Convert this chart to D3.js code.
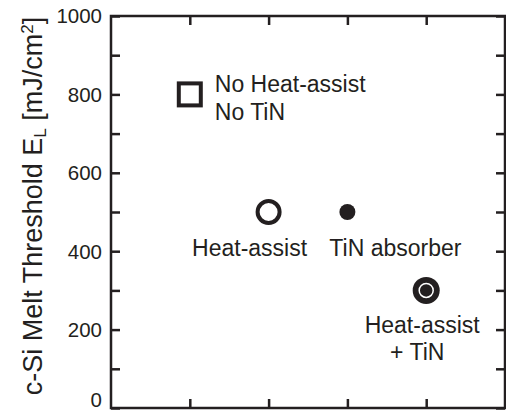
<!DOCTYPE html>
<html>
  <head>
    <meta charset="UTF-8" />
    <script src="https://cdnjs.cloudflare.com/ajax/libs/d3/7.8.5/d3.min.js"></script>
    <style>
      body { margin: 0; background: #fff; }
      text { font-family: "Liberation Sans", Arial, Helvetica, sans-serif; fill: #231f20; }
      .axis path.domain { stroke: none; }
      .axis line { stroke: #231f20; stroke-width: 2.5; }
    </style>
  </head>
  <body>
    <svg id="chart" width="506" height="413"></svg>
    <script>
      // data
      let cases = ["No Heat-assist / No TiN", "Heat-assist", "TiN absorber", "Heat-assist + TiN"];
      let xPos = [1, 2, 3, 4];
      let thresholds = [800, 500, 500, 300];
      let labelLines = [["No Heat-assist", "No TiN"], ["Heat-assist"], ["TiN absorber"], ["Heat-assist", "+ TiN"]];
      let yTicks = [0, 100, 200, 300, 400, 500, 600, 700, 800, 900, 1000];
      let yLabelTicks = [0, 200, 400, 600, 800, 1000];

      let ink = "#231f20";
      let svg = d3.select("#chart");

      let x = d3.scaleLinear().domain([0, 5]).range([111, 505]);
      let y = d3.scaleLinear().domain([0, 1000]).range([408, 16]);

      // frame
      svg.append("rect")
        .attr("x", x(0)).attr("y", y(1000))
        .attr("width", x(5) - x(0)).attr("height", y(0) - y(1000))
        .attr("fill", "none").attr("stroke", ink).attr("stroke-width", 2.5);

      // inward ticks on all four sides
      svg.append("g").attr("class", "axis")
        .attr("transform", `translate(${x(0)},0)`)
        .call(d3.axisLeft(y).tickValues(yTicks).tickSize(-9).tickFormat(""));
      svg.append("g").attr("class", "axis")
        .attr("transform", `translate(${x(5)},0)`)
        .call(d3.axisRight(y).tickValues(yTicks).tickSize(-9).tickFormat(""));
      svg.append("g").attr("class", "axis")
        .attr("transform", `translate(0,${y(0)})`)
        .call(d3.axisBottom(x).tickValues(xPos).tickSize(-9).tickFormat(""));
      svg.append("g").attr("class", "axis")
        .attr("transform", `translate(0,${y(1000)})`)
        .call(d3.axisTop(x).tickValues(xPos).tickSize(-9).tickFormat(""));

      // tick labels (the bottom one is nudged up so it stays inside)
      svg.append("g").selectAll("text")
        .data(yLabelTicks)
        .join("text")
        .attr("x", 102)
        .attr("y", d => Math.min(y(d), 400))
        .attr("dy", "0.36em")
        .attr("text-anchor", "end")
        .style("font-size", "20.5px")
        .text(d => d);

      // y title
      let title = svg.append("text")
        .attr("transform", "translate(42,206) rotate(-90)")
        .attr("text-anchor", "middle")
        .style("font-size", "27px");
      title.append("tspan").text("c-Si Melt Threshold E");
      title.append("tspan").attr("baseline-shift", "-25%").style("font-size", "17px").text("L");
      title.append("tspan").text(" [mJ/cm");
      title.append("tspan").attr("baseline-shift", "super").style("font-size", "17px").text("2");
      title.append("tspan").text("]");

      let pts = cases.map((c, i) => ({ name: c, x: xPos[i], v: thresholds[i], lines: labelLines[i] }));

      // markers
      let m = svg.append("g");
      let p0 = pts[0];
      m.append("rect")
        .attr("x", x(p0.x) - 11).attr("y", y(p0.v) - 11)
        .attr("width", 22).attr("height", 22)
        .attr("fill", "none").attr("stroke", ink).attr("stroke-width", 4);
      m.append("circle")
        .attr("cx", x(pts[1].x)).attr("cy", y(pts[1].v)).attr("r", 11)
        .attr("fill", "#fff").attr("stroke", ink).attr("stroke-width", 4);
      m.append("circle")
        .attr("cx", x(pts[2].x)).attr("cy", y(pts[2].v)).attr("r", 8)
        .attr("fill", ink);
      m.append("circle")
        .attr("cx", x(pts[3].x)).attr("cy", y(pts[3].v)).attr("r", 13.5)
        .attr("fill", ink);
      m.append("circle")
        .attr("cx", x(pts[3].x)).attr("cy", y(pts[3].v)).attr("r", 7)
        .attr("fill", "none").attr("stroke", "#fff").attr("stroke-width", 1.5);

      // annotation text: [dx, dy of first baseline, line step, anchor]
      let place = [
        [25, -2.5, 28, "start"],
        [-19, 44, 0, "middle"],
        [48, 44, 0, "middle"],
        [-4, 43, 27, "middle"]
      ];
      pts.forEach((p, i) => {
        let [dx, dy, step, anchor] = place[i];
        p.lines.forEach((line, j) => {
          svg.append("text")
            .attr("x", x(p.x) + dx + (i == 3 && j == 1 ? -5 : 0))
            .attr("y", y(p.v) + dy + j * step)
            .attr("text-anchor", anchor)
            .style("font-size", "23px")
            .text(line);
        });
      });
    </script>
  </body>
</html>
